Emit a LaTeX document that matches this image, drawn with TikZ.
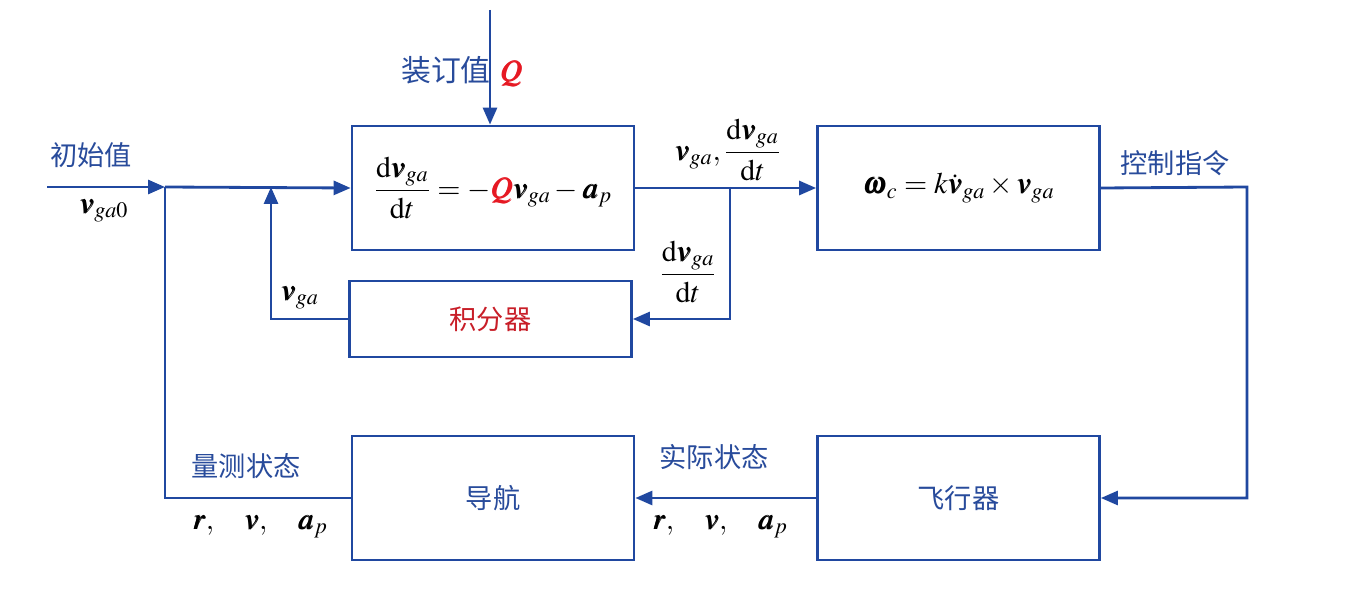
\documentclass[tikz,border=0pt]{standalone}
\usepackage{amsmath,amssymb}
\usepackage{mathptmx}
\usepackage{bm}
\usepackage[no-math]{fontspec}
\newfontfamily\cjk{Noto Sans CJK SC}
\usepackage{xcolor}
\usepackage{tikz}
\usetikzlibrary{arrows.meta,positioning}

\definecolor{lineblue}{RGB}{32,72,160}
\definecolor{txtblue}{RGB}{40,75,155}
\definecolor{qred}{RGB}{230,25,35}
\definecolor{intred}{RGB}{200,30,40}

\begin{document}
\begin{tikzpicture}[
    x=0.02cm, y=-0.02cm,
    every node/.style={align=center, font=\fontsize{17}{20}\selectfont},
    blk/.style={draw=lineblue, line width=1.6pt, minimum width=5.64cm, minimum height=2.48cm, inner sep=0pt},
    cn/.style={text=txtblue, font=\fontsize{15.5}{18}\cjk},
    link/.style={draw=lineblue, line width=1.6pt},
    arr/.style={link, -{Triangle[length=0.34cm,width=0.28cm]}}
]
\useasboundingbox (0,0) rectangle (1345,601);

\node[blk] (eq) at (493,188) {$\dfrac{\mathrm{d}\bm{v}_{ga}}{\mathrm{d}t}=-{\color{qred}\bm{Q}}\bm{v}_{ga}-\bm{a}_{p}$};
\node[blk] (om) at (958.5,188) {$\bm{\omega}_{c}=k\dot{\bm{v}}_{ga}\times\bm{v}_{ga}$};
\node[blk, minimum height=1.52cm, cn, text=intred] (int) at (490.5,319) {积分器};
\node[blk, cn] (nav) at (493,498) {导航};
\node[blk, cn] (fly) at (958.5,498) {飞行器};

\coordinate (in) at (47,187);
\coordinate (j1) at (165,187);
\coordinate (j2) at (271,187);
\coordinate (top) at (490,10);
\coordinate (br) at (730,187);
\coordinate (rt) at (1247,187);

\draw[arr] (in) -- (j1);
\draw[arr] (j1) -- (eq.west);
\draw[arr] (int.west) -| (j2);
\draw[link] (j1) |- (nav.west);
\draw[arr] (top) -- (top |- eq.north);
\draw[arr] (eq.east) -- (om.west);
\draw[arr] (br) |- (int.east);
\draw[arr] (om.east) -- (rt) |- (fly.east);
\draw[arr] (fly.west) -- (nav.east);

\node[cn] (init) at (91,155) {初始值};
\node (vin) at (104,211) {$\bm{v}_{ga0}$};
\node (bind) at (462,72) {{\cjk\color{txtblue}装订值} $\color{qred}\bm{Q}$};
\node (out) at (728,150) {$\bm{v}_{ga},\dfrac{\mathrm{d}\bm{v}_{ga}}{\mathrm{d}t}$};
\node (dvb) at (688,272) {$\dfrac{\mathrm{d}\bm{v}_{ga}}{\mathrm{d}t}$};
\node (vfb) at (300,298) {$\bm{v}_{ga}$};
\node[cn] (cmd) at (1175,163) {控制指令};
\node[cn] (meas) at (246,466) {量测状态};
\node (mstate) at (260,527) {$\bm{r},\ \ \ \bm{v},\ \ \ \bm{a}_{p}$};
\node[cn] (real) at (714,457) {实际状态};
\node (rstate) at (720,527) {$\bm{r},\ \ \ \bm{v},\ \ \ \bm{a}_{p}$};
\end{tikzpicture}
\end{document}
